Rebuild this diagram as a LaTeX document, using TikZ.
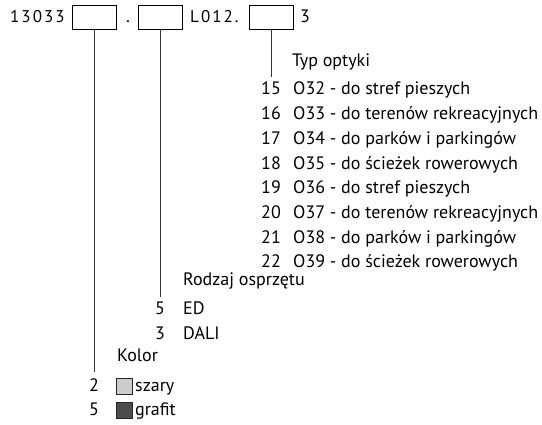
\documentclass[tikz,border=0pt]{standalone}
\usepackage{fontspec}
\setmainfont{PT Sans}
\newfontfamily\spacedfont[LetterSpace=12]{PT Sans}
\usetikzlibrary{positioning}
\begin{document}
\begin{tikzpicture}
[x=1pt,y=-1pt,
every node/.style={font=\fontsize{18}{21}\selectfont},
txt/.style={anchor=base west,inner sep=0pt},
num/.style={anchor=base,inner sep=0pt},
code/.style={anchor=base west,inner sep=0pt,font=\fontsize{17}{20}\spacedfont},
field/.style={draw=black,line width=0.8pt,minimum width=44pt,minimum height=24pt,inner sep=0pt},
lead/.style={draw=black!80,line width=0.9pt},
swatch/.style={draw=black!85,line width=0.8pt,minimum size=16pt,inner sep=0pt}]

\useasboundingbox (0,0) rectangle (542,425);

% kod produktu
\node (prefix) [code] at (10,23) {13033};
\node (box1) [field] at (94.5,17) {};
\node (dot) [num] at (128,23) {.};
\node (box2) [field] at (160,17) {};
\node (mid) [code] at (190,23) {L012.};
\node (box3) [field] at (271,17) {};
\node (suffix) [txt] at (300,23) {3};

% typ optyki
\coordinate (end3) at (271,77);
\draw[lead] (box3.south) -- (end3);
\node (optics) [txt] at (292,67) {Typ optyki};
\foreach \n/\o/\t [count=\i from 0] in {15/O32/do stref pieszych,16/O33/do terenów rekreacyjnych,
  17/O34/do parków i parkingów,18/O35/do ścieżek rowerowych,19/O36/do stref pieszych,
  20/O37/do terenów rekreacyjnych,21/O38/do parków i parkingów,22/O39/do ścieżek rowerowych}{
  \node (on\n) [num] at (271,95+24.7*\i) {\n};
  \node (ot\n) [txt] at (293,95+24.7*\i) {\o{} - \t};
}

% rodzaj osprzetu
\coordinate (end2) at (160,297);
\draw[lead] (box2.south) -- (end2);
\node (gear) [txt] at (183,286) {Rodzaj osprzętu};
\node (gn5) [num] at (160,315) {5};
\node (gt5) [txt] at (183,315) {ED};
\node (gn3) [num] at (160,340) {3};
\node (gt3) [txt] at (183,340) {DALI};

% kolor
\coordinate (end1) at (94.5,372);
\draw[lead] (box1.south) -- (end1);
\node (colour) [txt] at (117,362) {Kolor};
\node (cn2) [num] at (94,392) {2};
\node (grey) [swatch,fill=black!20] at (124,386) {};
\node (ct2) [txt] at (135,392) {szary};
\node (cn5) [num] at (94,416) {5};
\node (graphite) [swatch,fill=black!70] at (124,410) {};
\node (ct5) [txt] at (135,416) {grafit};
\end{tikzpicture}
\end{document}
